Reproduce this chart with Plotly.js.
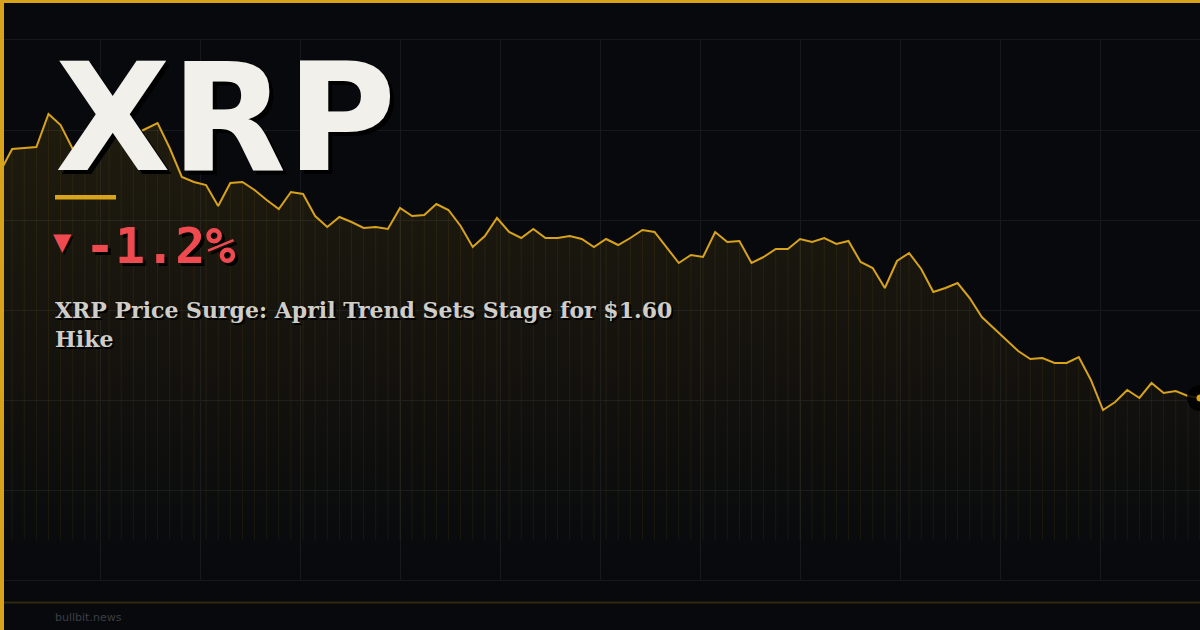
<!DOCTYPE html>
<html>
<head>
<meta charset="utf-8">
<script src="https://cdn.plot.ly/plotly-3.0.1.min.js"></script>
<style>
  html, body { margin: 0; padding: 0; background: #07090d; }
  #chart { width: 1200px; height: 630px; }
</style>
</head>
<body>
<div id="chart"></div>
<script>
// XRP price samples (oldest -> newest)
const prices = [
    2.208, 2.231, 2.232, 2.233, 2.266, 2.255, 2.231, 2.240, 2.248, 2.254,
    2.251, 2.245, 2.251, 2.257, 2.232, 2.203, 2.198, 2.195, 2.174, 2.197,
    2.198, 2.190, 2.180, 2.171, 2.188, 2.186, 2.164, 2.153, 2.163, 2.158,
    2.152, 2.153, 2.151, 2.172, 2.164, 2.165, 2.176, 2.170, 2.154, 2.133,
    2.144, 2.162, 2.148, 2.142, 2.151, 2.142, 2.142, 2.144, 2.141, 2.133,
    2.141, 2.135, 2.142, 2.150, 2.148, 2.133, 2.117, 2.125, 2.123, 2.148,
    2.138, 2.139, 2.117, 2.123, 2.131, 2.131, 2.141, 2.138, 2.142, 2.136,
    2.139, 2.118, 2.112, 2.092, 2.119, 2.127, 2.111, 2.088, 2.092, 2.097,
    2.082, 2.063, 2.052, 2.040, 2.029, 2.021, 2.022, 2.017, 2.017, 2.023,
    2.000, 1.970, 1.978, 1.990, 1.982, 1.997, 1.987, 1.989, 1.984, 1.982
];
const steps = prices.map((_, i) => i);

const ticker = 'XRP';
const changeText = '-1.2%';
const changeArrow = '▼';
const headlineLines = ['XRP Price Surge: April Trend Sets Stage for $1.60', 'Hike'];
const sourceText = 'bullbit.news';

// Look
const W = 1200, H = 630;
const PLOT_TOP = 40, PLOT_BOTTOM = 580;
const PLOT_H = PLOT_BOTTOM - PLOT_TOP;
const Y_MIN = 1.80, Y_MAX = 2.34;
const BG = '#07090d';
const GOLD = '#d8a31a';
const GRID = '#15181d';
const RED = '#ee4a50';

// page pixels -> paper coords
const px = x => x / W;
const py = y => (PLOT_BOTTOM - y) / PLOT_H;

const last = prices.length - 1;

const priceTrace = {
    x: steps,
    y: prices,
    type: 'scatter',
    mode: 'lines',
    line: { color: GOLD, width: 2 },
    fill: 'tozeroy',
    fillgradient: {
        type: 'vertical',
        start: Y_MIN,
        stop: Math.max(...prices),
        colorscale: [
            [0, 'rgba(212,160,23,0.0)'],
            [0.45, 'rgba(212,160,23,0.06)'],
            [1, 'rgba(212,160,23,0.12)']
        ]
    },
    // thin drop lines under every sample
    error_y: {
        type: 'data',
        symmetric: false,
        array: prices.map(() => 0),
        arrayminus: prices.map(p => p - (Y_MIN + 0.04)),
        color: 'rgba(212,160,23,0.09)',
        thickness: 1,
        width: 0
    },
    hoverinfo: 'skip'
};

// dark halo + gold dot on the latest price
const haloTrace = {
    x: [steps[last]],
    y: [prices[last]],
    type: 'scatter',
    mode: 'markers',
    marker: { size: 26, color: 'rgba(0,0,0,0.85)', line: { width: 0 } },
    hoverinfo: 'skip'
};
const dotTrace = {
    x: [steps[last]],
    y: [prices[last]],
    type: 'scatter',
    mode: 'markers',
    marker: { size: 7, color: GOLD, line: { width: 0 } },
    hoverinfo: 'skip'
};

const layout = {
    width: W,
    height: H,
    margin: { l: 0, r: 0, t: PLOT_TOP, b: H - PLOT_BOTTOM, pad: 0 },
    paper_bgcolor: BG,
    plot_bgcolor: BG,
    showlegend: false,
    hovermode: false,
    font: { family: 'DejaVu Sans', color: '#ffffff' },
    xaxis: {
        range: [0, last],
        tick0: 0,
        dtick: last / 12,
        showgrid: true,
        gridcolor: GRID,
        gridwidth: 1,
        zeroline: false,
        showline: true,
        mirror: true,
        linecolor: GRID,
        linewidth: 1,
        showticklabels: false,
        ticks: ''
    },
    yaxis: {
        range: [Y_MIN, Y_MAX],
        tick0: Y_MIN,
        dtick: (Y_MAX - Y_MIN) / 6,
        showgrid: true,
        gridcolor: GRID,
        gridwidth: 1,
        zeroline: false,
        showline: false,
        showticklabels: false,
        ticks: ''
    },
    shapes: [
        // gold frame: top and left edges
        { type: 'rect', xref: 'paper', yref: 'paper', x0: 0, x1: 1, y0: py(3), y1: py(0),
          fillcolor: GOLD, line: { width: 0 }, layer: 'above' },
        { type: 'rect', xref: 'paper', yref: 'paper', x0: 0, x1: px(4), y0: py(H), y1: py(0),
          fillcolor: GOLD, line: { width: 0 }, layer: 'above' },
        // accent bar under the ticker
        { type: 'rect', xref: 'paper', yref: 'paper', x0: px(55), x1: px(116), y0: py(199.5), y1: py(195),
          fillcolor: GOLD, line: { width: 0 }, layer: 'above' },
        // footer divider
        { type: 'line', xref: 'paper', yref: 'paper', x0: 0, x1: 1, y0: py(602.5), y1: py(602.5),
          line: { color: 'rgba(212,160,23,0.2)', width: 2 }, layer: 'above' }
    ],
    annotations: [
        {
            text: ticker,
            xref: 'paper', yref: 'paper', x: px(53), y: py(118),
            xanchor: 'left', yanchor: 'middle', showarrow: false,
            font: { family: 'DejaVu Sans', size: 150, weight: 700, color: '#f1f0eb',
                    shadow: '4px 4px 0px #000000' }
        },
        {
            text: changeArrow,
            xref: 'paper', yref: 'paper', x: px(51), y: py(242),
            xanchor: 'left', yanchor: 'middle', showarrow: false,
            font: { family: 'DejaVu Sans', size: 24, color: RED, shadow: '2px 2px 0px #000000' }
        },
        {
            text: changeText,
            xref: 'paper', yref: 'paper', x: px(82.5), y: py(246),
            xanchor: 'left', yanchor: 'middle', showarrow: false,
            font: { family: 'DejaVu Sans Mono', size: 50, weight: 700, color: RED,
                    shadow: '3px 3px 0px #000000' }
        },
        {
            text: headlineLines.join('<br>'),
            xref: 'paper', yref: 'paper', x: px(52.5), y: py(324),
            xanchor: 'left', yanchor: 'middle', align: 'left', showarrow: false,
            font: { family: 'DejaVu Serif', size: 22, weight: 700, color: '#cfcdc8',
                    shadow: '2px 2px 0px #000000' }
        },
        {
            text: sourceText,
            xref: 'paper', yref: 'paper', x: px(53), y: py(617),
            xanchor: 'left', yanchor: 'middle', showarrow: false,
            font: { family: 'DejaVu Sans', size: 11, color: '#3c3f45' }
        }
    ]
};

const config = { staticPlot: true, displayModeBar: false };

Plotly.newPlot('chart', [priceTrace, haloTrace, dotTrace], layout, config);
</script>
</body>
</html>
